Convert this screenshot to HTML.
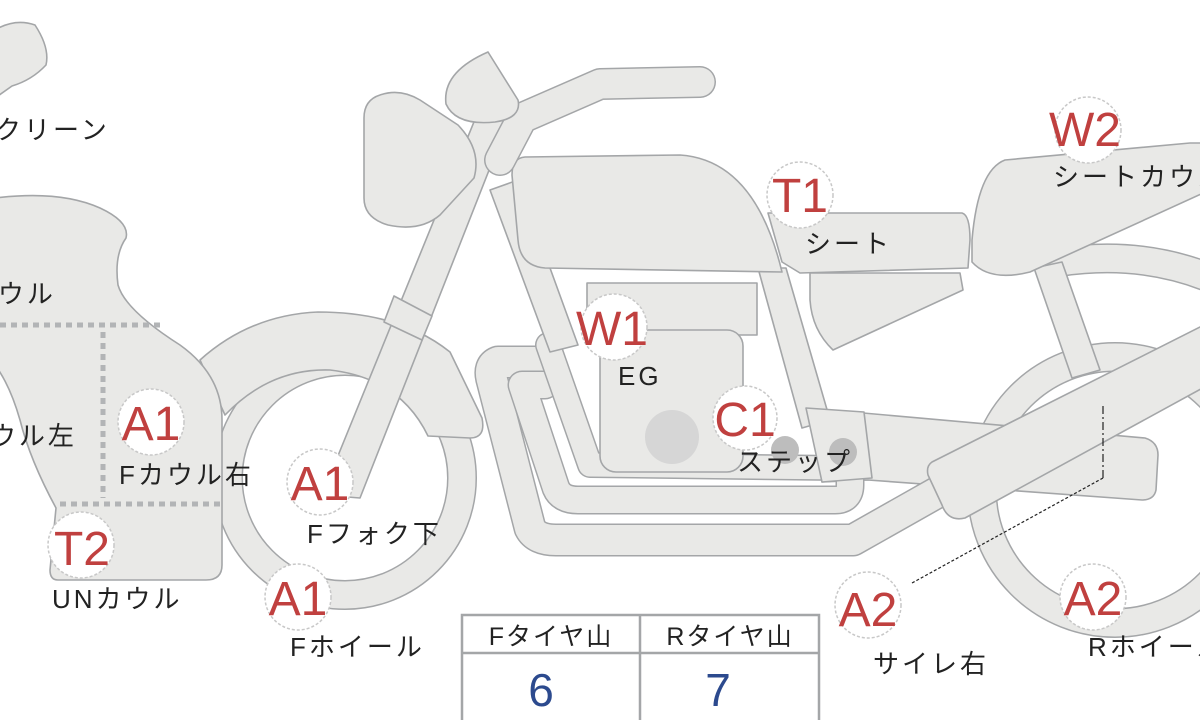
<!DOCTYPE html>
<html><head><meta charset="utf-8"><style>
html,body{margin:0;padding:0;background:#fff;}
svg{display:block;}
text{font-family:"Liberation Sans","Noto Sans CJK JP",sans-serif;}
.lb{font-size:26px;fill:#222;letter-spacing:3px;}
.cd{font-size:48px;fill:#c0403f;text-anchor:middle;}
</style></head><body>
<svg width="1200" height="720" viewBox="0 0 1200 720" xmlns="http://www.w3.org/2000/svg">
<defs>
<style>
.s{fill:#e9e9e7;stroke:#a4a6a8;stroke-width:1.6;stroke-linejoin:round;}
.o{fill:none;stroke:#a4a6a8;stroke-linecap:round;stroke-linejoin:round;}
.i{fill:none;stroke:#e9e9e7;stroke-linecap:round;stroke-linejoin:round;}
</style>
</defs>

<path class="o" d="M1060,262 Q1140,250 1210,278" stroke-width="30"/>
<path class="i" d="M1060,262 Q1140,250 1210,278" stroke-width="27"/>
<circle cx="1115" cy="490" r="133" fill="none" stroke="#a4a6a8" stroke-width="30"/>
<circle cx="1115" cy="490" r="133" fill="none" stroke="#e9e9e7" stroke-width="27"/>
<polygon class="s" points="1034,268 1062,262 1100,370 1072,378"/>
<path class="s" d="M972,240 Q978,170 1005,160 L1190,143 L1210,143 L1210,190 L1030,272 Q990,282 972,262 Z"/>
<path class="s" d="M807,408 L1145,438 Q1158,442 1158,455 L1156,490 Q1154,500 1142,500 L868,480 L822,482 Z"/>

<path class="o" d="M540,362 L498,362 Q488,366 492,380 L530,528 Q536,540 556,540 L853,540 L945,488" stroke-width="33"/>
<path class="i" d="M540,362 L498,362 Q488,366 492,380 L530,528 Q536,540 556,540 L853,540 L945,488" stroke-width="30"/>
<path class="o" d="M545,385 L522,385 L556,488 Q561,500 578,500 L835,500 Q850,500 850,485 L850,460" stroke-width="29"/>
<path class="i" d="M545,385 L522,385 L556,488 Q561,500 578,500 L835,500 Q850,500 850,485 L850,460" stroke-width="26"/>
<path class="o" d="M548,345 L590,465 L840,468" stroke-width="26"/>
<path class="i" d="M548,345 L590,465 L840,468" stroke-width="23"/>
<path class="s" d="M932,462 L1210,322 L1210,384 L965,518 Q948,522 942,505 L928,475 Q926,466 932,462 Z"/>

<circle cx="345" cy="478" r="117" fill="none" stroke="#a4a6a8" stroke-width="30"/>
<circle cx="345" cy="478" r="117" fill="none" stroke="#e9e9e7" stroke-width="27"/>
<path class="s" d="M200,360 Q250,315 318,312 Q400,312 450,352 L482,418 Q486,438 470,438 L428,436 Q400,378 330,370 Q270,368 225,415 Z"/>

<polygon class="s" points="490,190 518,180 578,345 550,352"/>
<polygon class="s" points="758,268 786,268 830,420 802,428"/>
<rect class="s" x="587" y="283" width="170" height="52"/>
<rect class="s" x="600" y="330" width="143" height="142" rx="16"/>
<circle cx="672" cy="437" r="27" fill="#d6d6d6"/>
<polygon class="s" points="806,408 864,412 872,478 822,482"/>
<circle cx="785" cy="450" r="14" fill="#bdbdbd"/>
<circle cx="843" cy="452" r="14" fill="#bdbdbd"/>
<path class="s" d="M525,157 L680,155 Q755,160 782,272 L545,268 Q520,266 518,240 L512,175 Q512,158 525,157 Z"/>
<path class="s" d="M810,273 L960,273 L963,290 L833,350 Q812,330 810,300 Z"/>
<path class="s" d="M768,213 L962,213 Q970,215 970,240 L968,268 L800,273 L782,262 Z"/>

<polygon class="s" points="478,112 508,122 360,498 322,495"/>
<polygon class="s" points="394,296 432,316 422,340 384,322"/>
<path class="o" d="M500,160 L522,118 L600,84 L700,82" stroke-width="32"/>
<path class="i" d="M500,160 L522,118 L600,84 L700,82" stroke-width="29"/>
<path class="s" d="M488,52 L518,100 Q522,118 495,122 Q456,126 446,104 Q442,72 488,52 Z"/>
<path class="s" d="M380,95 Q400,88 420,100 L458,125 Q482,150 474,178 L440,215 Q420,232 388,225 Q364,218 364,198 L364,118 Q364,100 380,95 Z"/>

<path class="s" d="M-5,198 Q60,190 100,208 Q130,222 126,238 Q114,255 118,285 Q125,310 180,345 Q222,375 222,420 L222,565 Q222,580 206,580 L58,580 Q50,580 50,570 L56,508 Q30,460 20,420 Q10,385 -5,365 Z"/>
<path class="s" d="M-5,30 Q15,18 35,25 Q50,48 46,65 Q32,80 12,86 L-5,98 Z"/>

<g stroke="#b2b4b6" stroke-width="5" stroke-dasharray="6,5" fill="none">
<line x1="0" y1="325" x2="165" y2="325"/>
<line x1="103" y1="332" x2="103" y2="498"/>
<line x1="60" y1="504" x2="224" y2="504"/>
</g>

<polyline points="912,583 1103,478" fill="none" stroke="#222" stroke-width="1.2" stroke-dasharray="3,2"/>
<polyline points="1103,478 1103,405" fill="none" stroke="#222" stroke-width="1.2" stroke-dasharray="8,3,2,3"/>

<g fill="#fff" stroke="#c8c8c8" stroke-width="1.5" stroke-dasharray="3,2">
<circle cx="151" cy="422" r="33"/>
<circle cx="320" cy="482" r="33"/>
<circle cx="298" cy="597" r="33"/>
<circle cx="81" cy="545" r="33"/>
<circle cx="614" cy="327" r="33"/>
<circle cx="745" cy="418" r="32"/>
<circle cx="800" cy="195" r="33"/>
<circle cx="1088" cy="130" r="33"/>
<circle cx="868" cy="605" r="33"/>
<circle cx="1093" cy="597" r="33"/>
</g>
<g>
<text x="151" y="440" class="cd">A1</text>
<text x="320" y="500" class="cd">A1</text>
<text x="298" y="615" class="cd">A1</text>
<text x="82" y="565" class="cd">T2</text>
<text x="612" y="345" class="cd">W1</text>
<text x="745" y="436" class="cd">C1</text>
<text x="800" y="212" class="cd">T1</text>
<text x="1085" y="146" class="cd">W2</text>
<text x="868" y="626" class="cd">A2</text>
<text x="1093" y="615" class="cd">A2</text>
</g>

<text class="lb" x="-34" y="139">スクリーン</text>
<text class="lb" x="-50" y="303">Fカウル</text>
<text class="lb" x="-58" y="445">Fカウル左</text>
<text class="lb" x="119" y="484">Fカウル右</text>
<text class="lb" x="307" y="543">Fフォク下</text>
<text class="lb" x="290" y="656">Fホイール</text>
<text class="lb" x="52" y="608">UNカウル</text>
<text class="lb" x="618" y="385">EG</text>
<text class="lb" x="737" y="471">ステップ</text>
<text class="lb" x="805" y="253">シート</text>
<text class="lb" x="1053" y="186">シートカウル</text>
<text class="lb" x="873" y="673">サイレ右</text>
<text class="lb" x="1088" y="656">Rホイール</text>

<rect x="462" y="615" width="357" height="110" fill="#fff" stroke="#a4a6a8" stroke-width="2.5"/>
<line x1="462" y1="653" x2="819" y2="653" stroke="#a4a6a8" stroke-width="2.5"/>
<line x1="640" y1="615" x2="640" y2="720" stroke="#a4a6a8" stroke-width="2.5"/>
<text x="551" y="645" text-anchor="middle" style="font-size:25px;fill:#222;letter-spacing:2px;">Fタイヤ山</text>
<text x="730" y="645" text-anchor="middle" style="font-size:25px;fill:#222;letter-spacing:2px;">Rタイヤ山</text>
<text x="541" y="706" text-anchor="middle" style="font-size:46px;fill:#2c4a8e;">6</text>
<text x="718" y="706" text-anchor="middle" style="font-size:46px;fill:#2c4a8e;">7</text>
</svg>
</body></html>
